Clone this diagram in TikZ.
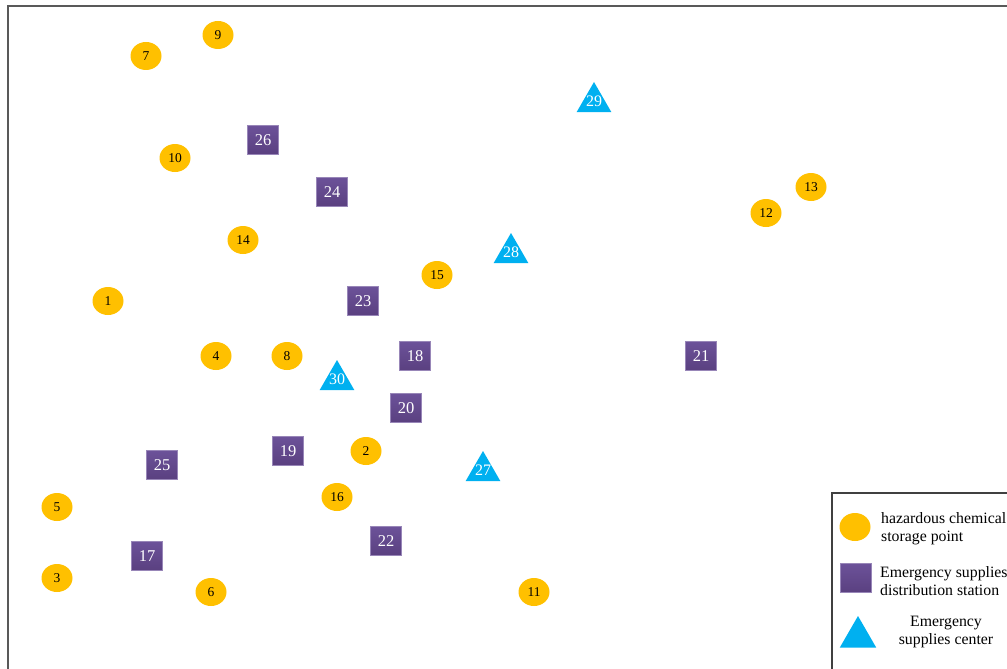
\documentclass[tikz,border=0pt]{standalone}
\usepackage{fontspec}
\setmainfont{Liberation Serif}
\usetikzlibrary{shapes.geometric,shadings}
\definecolor{hazY}{HTML}{FFC000}
\definecolor{purT}{HTML}{6C5299}
\definecolor{purB}{HTML}{5A4080}
\definecolor{cenB}{HTML}{00B0F0}
\begin{document}
\begin{tikzpicture}[x=1pt,y=-1pt,
  haz/.style={ellipse,fill=hazY,minimum width=31pt,minimum height=28pt,inner sep=0pt,font=\fontsize{13.5}{13.5}\selectfont,text=black},
  dist/.style={rectangle,top color=purT,bottom color=purB,draw=purT!70!white,line width=0.4pt,minimum width=31pt,minimum height=29pt,inner sep=0pt,font=\fontsize{16.5}{16.5}\selectfont,text=white},
  cen/.style={regular polygon,regular polygon sides=3,fill=cenB,minimum size=40pt,inner sep=0pt},
  cenlab/.style={font=\fontsize{16}{16}\selectfont,text=white,inner sep=0pt},
  legtxt/.style={font=\fontsize{15.8}{18}\selectfont,inner sep=0pt}
]
\useasboundingbox (0,0) rectangle (1007,669);
\begin{scope}
\clip (0,0) rectangle (1007,669);
\draw[line width=1.2pt,draw=black!65] (8,6) rectangle (1020,690);
% hazardous chemical storage points
\node[haz] (n1) at (108,301) {1};
\node[haz] (n2) at (366,451) {2};
\node[haz] (n3) at (57,578) {3};
\node[haz] (n4) at (216,356) {4};
\node[haz] (n5) at (57,507) {5};
\node[haz] (n6) at (211,592) {6};
\node[haz] (n7) at (146,56) {7};
\node[haz] (n8) at (287,356) {8};
\node[haz] (n9) at (218,35) {9};
\node[haz] (n10) at (175,158) {10};
\node[haz] (n11) at (534,592) {11};
\node[haz] (n12) at (766,213) {12};
\node[haz] (n13) at (811,187) {13};
\node[haz] (n14) at (243,240) {14};
\node[haz] (n15) at (437,275) {15};
\node[haz] (n16) at (337,497) {16};
% distribution stations
\node[dist] (n17) at (147,556) {17};
\node[dist] (n18) at (415,356) {18};
\node[dist] (n19) at (288,451) {19};
\node[dist] (n20) at (406,408) {20};
\node[dist] (n21) at (701,356) {21};
\node[dist] (n22) at (386,541) {22};
\node[dist] (n23) at (363,301) {23};
\node[dist] (n24) at (332,192) {24};
\node[dist] (n25) at (162,465) {25};
\node[dist] (n26) at (263,140) {26};
% supplies centers
\node[cen] (t27) at (483,471) {};
\node[cenlab] (n27) at (483,470) {27};
\node[cen] (t28) at (511,253) {};
\node[cenlab] (n28) at (511,252) {28};
\node[cen] (t29) at (594,102) {};
\node[cenlab] (n29) at (594,101) {29};
\node[cen] (t30) at (337,380) {};
\node[cenlab] (n30) at (337,379) {30};
% legend
\draw[line width=1.2pt,draw=black!75,fill=white] (832,493) rectangle (1020,690);
\node[haz] (lg1) at (855,527) {};
\node[dist] (lg2) at (856,578) {};
\node[cen,minimum size=42pt] (lg3) at (858,637) {};
\node[legtxt,align=left,anchor=west] (lt1) at (881,529) {hazardous chemical\\storage point};
\node[legtxt,align=left,anchor=west] (lt2) at (880,581) {Emergency supplies\\distribution station};
\node[legtxt,align=center] (lt3) at (946,632) {Emergency\\supplies center};
\end{scope}
\end{tikzpicture}
\end{document}
